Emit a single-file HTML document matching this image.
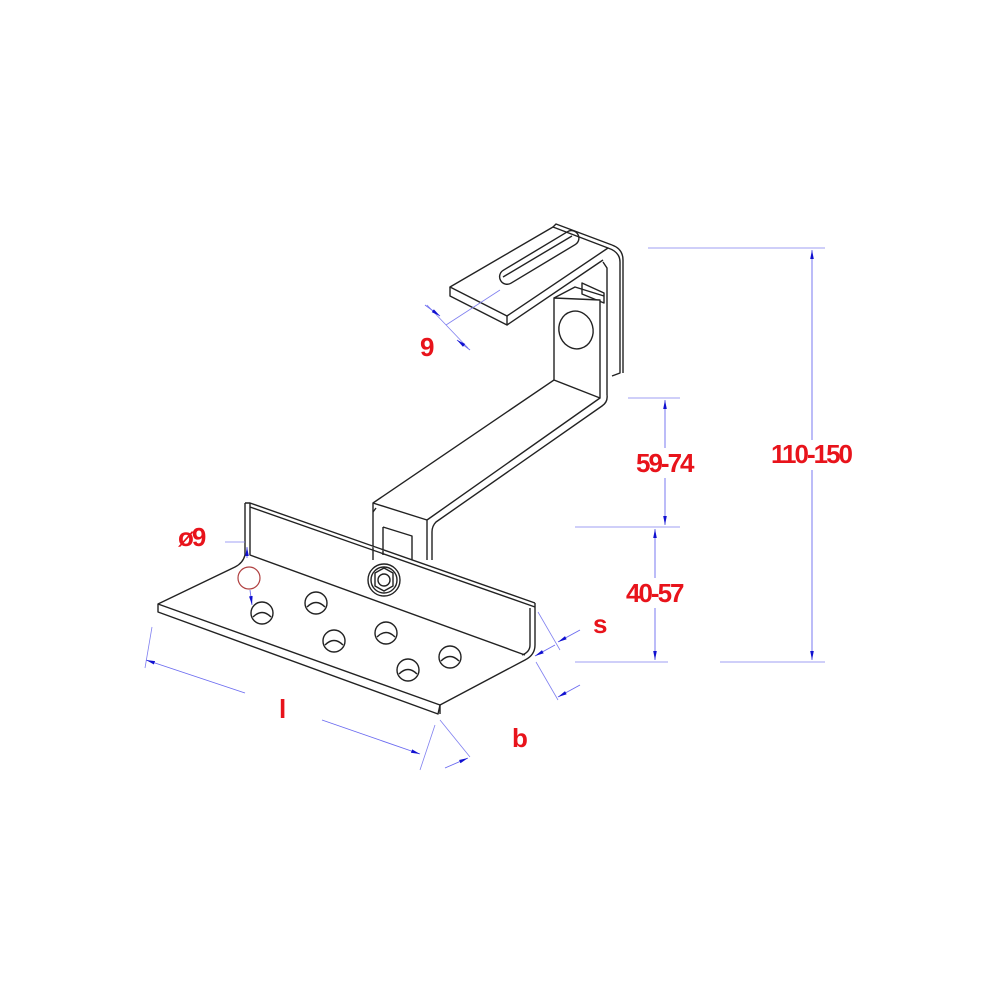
<!DOCTYPE html>
<html><head><meta charset="utf-8"><style>
html,body{margin:0;padding:0;background:#fff;}
svg{display:block}
text{font-family:"Liberation Sans",sans-serif;fill:#e8131b;font-size:26px;font-weight:bold;letter-spacing:-2px}
</style></head><body>
<svg width="1000" height="1000" viewBox="0 0 1000 1000" xmlns="http://www.w3.org/2000/svg">
<defs>
<marker id="a" viewBox="0 0 10 10" refX="10" refY="5" markerWidth="10" markerHeight="10" orient="auto-start-reverse"><path d="M0,3 L10,5 L0,7z" fill="#1010d0"/></marker>
</defs>
<g fill="none" stroke="#222" stroke-width="1.4" stroke-linejoin="round">
<path d="M450,287 L553,227 L608,248 L507,316 Z" fill="#fff"/>
<path d="M450,287 L450,296 L507,325 L507,316"/>
<path d="M507,325 L603,260"/>
<path d="M553,227 L556,224 L612,245"/>
<rect x="494" y="250" width="90" height="15" rx="7.5" transform="rotate(-31 539 257)"/>
<path d="M503,277 L572,236"/>
<path d="M608,248 Q620,252 620,262 L620,373 L612,376"/>
<path d="M612,245 Q623,249 623,260 L623,373"/>
<path d="M603,262 L607,268 L607,395"/>
<path d="M582,283 L582,294 L604,303 L604,293 Z"/>
<path d="M554,298 L554,380 L600,398 L600,300 Z" fill="#fff"/>
<path d="M554,298 L575,287 L604,296"/>
<ellipse cx="576" cy="330" rx="17" ry="19" transform="rotate(-15 576 330)"/>
<path d="M554,380 L373,503 L373,560"/>
<path d="M600,398 L427,520 L427,560"/>
<path d="M607,395 Q608,402 602,406 L436,522 Q432,526 432,532 L432,560"/>
<path d="M373,503 L427,520"/>
<path d="M383,527 L383,555 M383,527 L412,536 L412,560"/>
<path d="M376,508 L373,512"/>
<path d="M245,503 L245,555 M245,503 L250,503 L535,603 M250,507 L535,607 M250,503 L250,507" fill="#fff"/>
<path d="M250,507 L250,555 L525,655" fill="none"/>
<path d="M535,603 L535,645 Q535,655 525,660 L440,705"/>
<path d="M530,608 L530,645 Q530,652 522,655"/>
<path d="M245,555 Q243,563 235,567 L158,604 L158,612 L438,714 L440,705 L158,604"/>
<path d="M440,705 L440,714"/>
<circle cx="384" cy="580" r="16"/>
<circle cx="384" cy="580" r="13"/>
<path d="M375,573 L384,568 L393,573 L393,586 L384,591 L375,586 Z"/>
<circle cx="384" cy="580" r="6"/>
<g>
<ellipse cx="262" cy="613" rx="11" ry="11"/><path d="M253,617 Q262,608 271,617"/>
<ellipse cx="316" cy="603" rx="11" ry="11"/><path d="M307,607 Q316,598 325,607"/>
<ellipse cx="334" cy="641" rx="11" ry="11"/><path d="M325,645 Q334,636 343,645"/>
<ellipse cx="386" cy="633" rx="11" ry="11"/><path d="M377,637 Q386,628 395,637"/>
<ellipse cx="408" cy="670" rx="11" ry="11"/><path d="M399,674 Q408,665 417,674"/>
<ellipse cx="450" cy="657" rx="11" ry="11"/><path d="M441,661 Q450,652 459,661"/>
</g>
</g>
<circle cx="249" cy="578" r="11" fill="none" stroke="#b04040" stroke-width="1.2"/>
<g stroke="#8080f0" stroke-width="0.8" fill="none">
<path d="M648,248 L825,248 M720,662 L825,662 M628,398 L680,398 M575,527 L680,527 M575,662 L668,662"/>
<path d="M145,668 L152,627 M435,725 L420,770 M440,720 L470,757 M538,612 L560,650 M536,662 L558,700"/>
<path d="M427,305 L468,348 M446,325 L500,290"/>
<path d="M225,542 L245,542"/>
</g>
<g stroke="#6a6af0" stroke-width="0.9" fill="none">
<path d="M812,250 L812,440" marker-start="url(#a)"/>
<path d="M812,470 L812,660" marker-end="url(#a)"/>
<path d="M665,400 L665,448" marker-start="url(#a)"/>
<path d="M665,478 L665,525" marker-end="url(#a)"/>
<path d="M655,529 L655,578" marker-start="url(#a)"/>
<path d="M655,608 L655,660" marker-end="url(#a)"/>
<path d="M146,660 L245,693" marker-start="url(#a)"/>
<path d="M322,720 L420,754" marker-end="url(#a)"/>
<path d="M468,758 L445,768" marker-start="url(#a)"/>
<path d="M580,630 L558,642" marker-end="url(#a)"/>
<path d="M555,645 L535,656" marker-end="url(#a)"/>
<path d="M580,685 L558,697" marker-end="url(#a)"/>
<path d="M425,305 L440,316" marker-end="url(#a)"/>
<path d="M470,350 L457,340" marker-end="url(#a)"/>
<path d="M247,558 L247,547" marker-end="url(#a)"/>
<path d="M250,590 L252,605" marker-end="url(#a)"/>
</g>
<text x="420" y="356">9</text>
<text x="178" y="546">ø9</text>
<text x="636" y="472">59-74</text>
<text x="771" y="463">110-150</text>
<text x="626" y="602">40-57</text>
<text x="593" y="633">s</text>
<text x="279" y="718">l</text>
<text x="512" y="747">b</text>
</svg>
</body></html>
